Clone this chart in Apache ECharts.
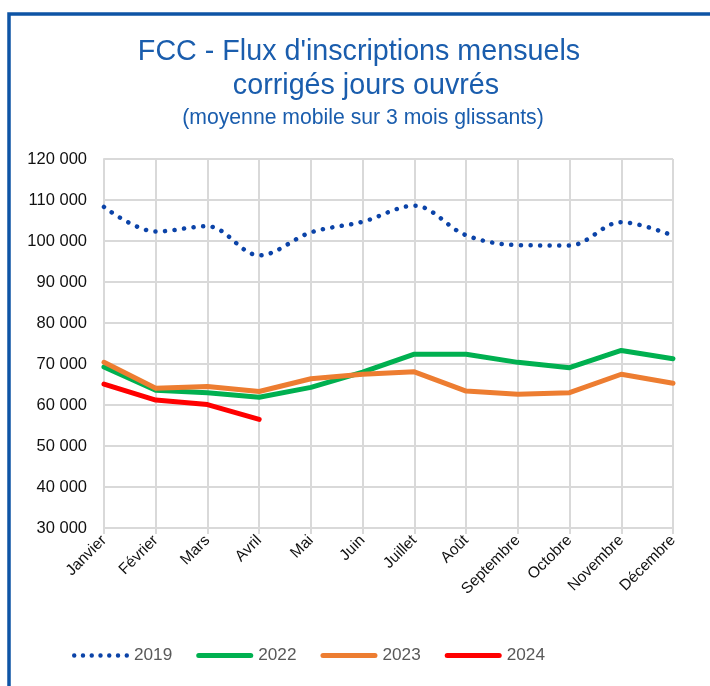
<!DOCTYPE html>
<html>
<head>
<meta charset="utf-8">
<script src="https://cdn.jsdelivr.net/npm/echarts@6/dist/echarts.min.js"></script>
<style>
html,body{margin:0;padding:0;background:#fff;}
#c{width:710px;height:686px;}
</style>
</head>
<body>
<div id="c"></div>
<script>
const months = ['Janvier','Février','Mars','Avril','Mai','Juin','Juillet','Août','Septembre','Octobre','Novembre','Décembre'];
const s2019 = [108300, 102300, 103600, 96500, 102100, 104700, 108600, 101400, 99000, 98900, 104600, 101300];
const s2022 = [69300, 63600, 63000, 61900, 64300, 68000, 72400, 72400, 70400, 69100, 73300, 71300];
const s2023 = [70400, 64100, 64500, 63300, 66400, 67500, 68100, 63400, 62600, 63000, 67500, 65300];
const s2024 = [65100, 61200, 60100, 56500];
const yTicks = {min: 30000, max: 120000, interval: 10000};

// legend icon shapes (57 x 5 box)
let dotPath = '';
for (let k = 0; k < 7; k++) {
  const cx = 2.5 + k * 8.667;
  dotPath += 'M' + (cx - 2.2) + ',2.5 A2.2,2.2 0 1,0 ' + (cx + 2.2) + ',2.5 A2.2,2.2 0 1,0 ' + (cx - 2.2) + ',2.5 Z ';
}
const dotIcon = 'path://' + dotPath;
const barIcon = 'path://M2.5,0 L54.5,0 A2.5,2.5 0 0,1 54.5,5 L2.5,5 A2.5,2.5 0 0,1 2.5,0 Z';

const chart = echarts.init(document.getElementById('c'), null, {renderer: 'canvas'});
const fmt = v => String(v).replace(/\B(?=(\d{3})+(?!\d))/g, ' ');
const titleColor = '#1A5DAD';
const ff = 'Liberation Sans, Arial';
chart.setOption({
  animation: false,
  backgroundColor: '#fff',
  graphic: [{
    type: 'rect', shape: {x: 9, y: 14, width: 760, height: 760},
    style: {fill: 'none', stroke: '#0E54A5', lineWidth: 3.5}, z: 100
  }],
  title: [
    {text: "FCC - Flux d'inscriptions mensuels", left: 354, textAlign: 'center', top: 33,
     textStyle: {fontFamily: ff, fontSize: 28.7, fontWeight: 'normal', color: titleColor}},
    {text: 'corrigés jours ouvrés', left: 361, textAlign: 'center', top: 67,
     textStyle: {fontFamily: ff, fontSize: 28.7, fontWeight: 'normal', color: titleColor}},
    {text: '(moyenne mobile sur 3 mois glissants)', left: 358, textAlign: 'center', top: 103,
     textStyle: {fontFamily: ff, fontSize: 21.2, fontWeight: 'normal', color: titleColor}}
  ],
  grid: {left: 104, right: 37, top: 159, bottom: 158, containLabel: false},
  legend: {
    top: 642, left: 67, itemWidth: 57, itemHeight: 5, itemGap: 24,
    textStyle: {fontFamily: ff, fontSize: 17.2, color: '#595959'},
    data: [
      {name: '2019', icon: dotIcon},
      {name: '2022', icon: barIcon},
      {name: '2023', icon: barIcon},
      {name: '2024', icon: barIcon}
    ]
  },
  xAxis: {
    type: 'category', data: months, boundaryGap: false,
    axisLine: {lineStyle: {color: '#D9D9D9', width: 2}},
    axisTick: {show: true, length: 6, lineStyle: {color: '#D9D9D9', width: 2}},
    splitLine: {show: true, lineStyle: {color: '#D9D9D9', width: 2}},
    axisLabel: {rotate: 45, interval: 0, margin: 10, color: '#111',
      fontFamily: ff, fontSize: 15.5}
  },
  yAxis: {
    type: 'value', min: yTicks.min, max: yTicks.max, interval: yTicks.interval,
    axisLine: {show: true, lineStyle: {color: '#D9D9D9', width: 2}},
    splitLine: {show: true, lineStyle: {color: '#D9D9D9', width: 2}},
    axisLabel: {formatter: fmt, margin: 17, color: '#111',
      fontFamily: ff, fontSize: 16.5}
  },
  series: [
    {name: '2019', type: 'line', data: s2019, smooth: 0.35, symbol: 'none',
     lineStyle: {color: '#0B43A8', width: 4.5, type: [0.1, 9.5], cap: 'round'},
     itemStyle: {color: '#0B43A8'}},
    {name: '2022', type: 'line', data: s2022, symbol: 'none',
     lineStyle: {color: '#00B050', width: 5, cap: 'round', join: 'round'},
     itemStyle: {color: '#00B050'}},
    {name: '2023', type: 'line', data: s2023, symbol: 'none',
     lineStyle: {color: '#ED7D31', width: 5, cap: 'round', join: 'round'},
     itemStyle: {color: '#ED7D31'}},
    {name: '2024', type: 'line', data: s2024, symbol: 'none',
     lineStyle: {color: '#FF0000', width: 5, cap: 'round', join: 'round'},
     itemStyle: {color: '#FF0000'}}
  ]
});
</script>
</body>
</html>
